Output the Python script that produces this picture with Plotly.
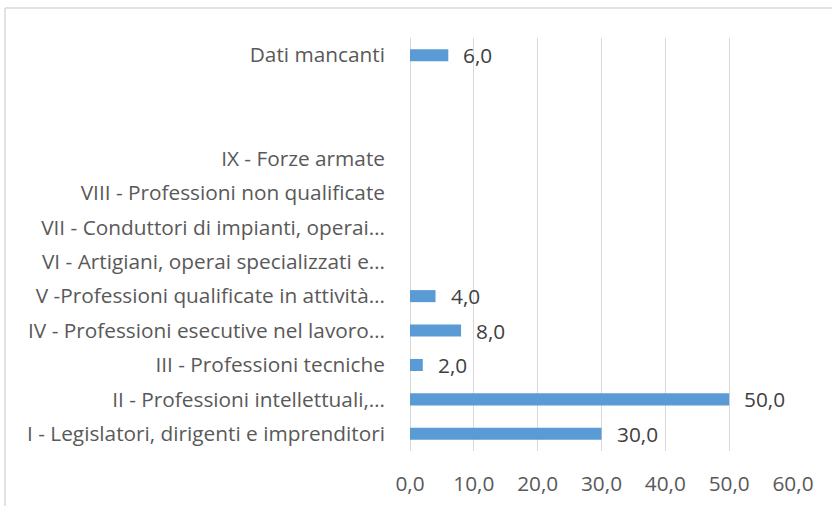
import plotly.graph_objects as go

categories = [
    "I - Legislatori, dirigenti e imprenditori",
    "II - Professioni intellettuali,…",
    "III - Professioni tecniche",
    "IV - Professioni esecutive nel lavoro…",
    "V -Professioni qualificate in attività…",
    "VI - Artigiani, operai specializzati e…",
    "VII - Conduttori di impianti, operai…",
    "VIII - Professioni non qualificate",
    "IX - Forze armate",
    " ",
    "  ",
    "Dati mancanti",
]
values = [30.0, 50.0, 2.0, 8.0, 4.0, None, None, None, None, None, None, 6.0]
x_ticks = [0, 10, 20, 30, 40, 50, 60]

W, H = 832, 506
ML, MR, MT, MB = 410, 39, 38, 55
FONT = "Open Sans"
FS = 20.8

fig = go.Figure(
    go.Bar(
        x=values,
        y=categories,
        orientation="h",
        marker=dict(color="#5B9BD5", line=dict(width=0)),
        width=0.35,
        hoverinfo="skip",
    )
)

annotations = []
for c, v in zip(categories, values):
    if v is None:
        continue
    annotations.append(
        dict(
            x=v, y=c, xref="x", yref="y",
            text=f"{v:.1f}".replace(".", ","),
            showarrow=False, xanchor="left", yanchor="middle",
            xshift=13,
            font=dict(family=FONT, size=FS, color="#404040"),
        )
    )

pw = W - ML - MR
ph = H - MT - MB
# outer chart border (top and left visible)
bx0 = (5 - ML) / pw
by1 = (H - MB - 8) / ph
shapes = [
    dict(type="line", xref="paper", yref="paper", x0=bx0, x1=(W + 5 - ML) / pw,
         y0=by1, y1=by1, line=dict(color="#D9D9D9", width=1.5)),
    dict(type="line", xref="paper", yref="paper", x0=bx0, x1=bx0,
         y0=by1, y1=-(MB + 10) / ph, line=dict(color="#D9D9D9", width=1.5)),
]

fig.update_layout(
    width=W, height=H,
    margin=dict(l=ML, r=MR, t=MT, b=MB, pad=0, autoexpand=False),
    paper_bgcolor="white", plot_bgcolor="white",
    separators=",.",
    showlegend=False,
    annotations=annotations,
    shapes=shapes,
    font=dict(family=FONT, size=FS, color="#595959"),
)
fig.update_xaxes(
    range=[0, 60],
    tickvals=x_ticks,
    tickformat=".1f",
    showgrid=True, gridcolor="#D9D9D9", gridwidth=1,
    zeroline=True, zerolinecolor="#D9D9D9", zerolinewidth=1,
    showline=False, ticks="",
    ticklabelstandoff=18,
    automargin=False,
    tickfont=dict(family=FONT, size=FS, color="#595959"),
    fixedrange=True,
)
fig.update_yaxes(
    type="category",
    categoryorder="array", categoryarray=categories,
    showgrid=False, zeroline=False, showline=False, ticks="",
    ticklabelstandoff=24,
    automargin=False,
    tickfont=dict(family=FONT, size=FS, color="#595959"),
    fixedrange=True,
)

fig.write_html(
    "out.html",
    config={"displayModeBar": False},
    post_script="document.body.style.margin='0';",
)
